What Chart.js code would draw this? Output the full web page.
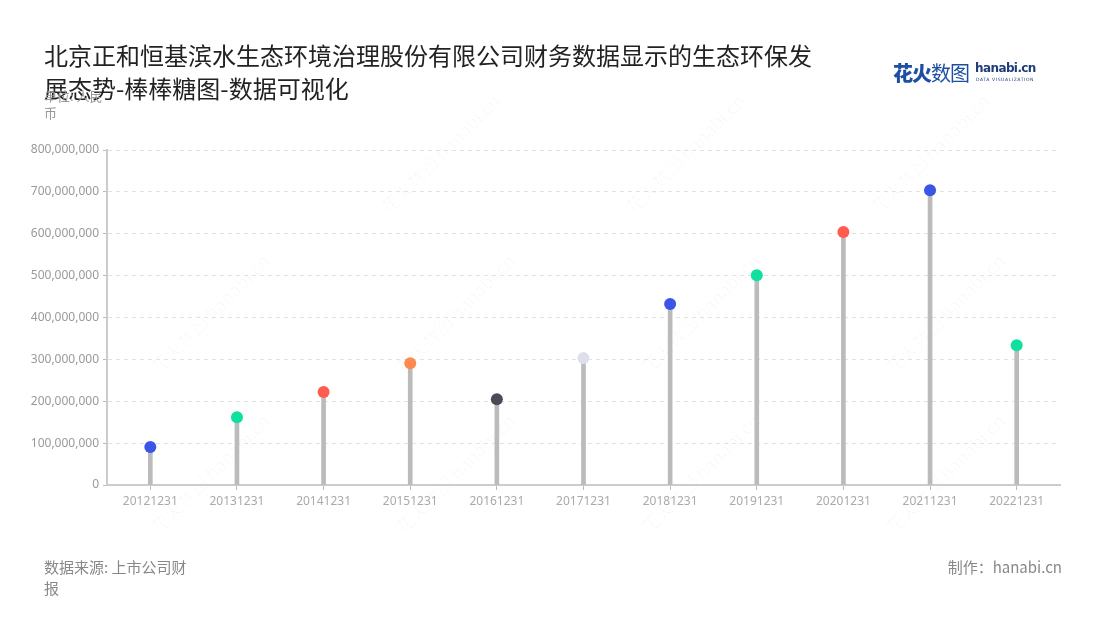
<!DOCTYPE html>
<html>
<head>
<meta charset="utf-8">
<script src="https://cdn.jsdelivr.net/npm/chart.js@4/dist/chart.umd.min.js"></script>
<style>
  body { margin: 0; background: #fff; font-family: "Noto Sans CJK SC", "Noto Sans", sans-serif; }
  #wrap { position: relative; width: 1100px; height: 620px; overflow: hidden; }
  #chart { position: absolute; left: 0; top: 0; }
  .title { position: absolute; left: 44px; top: 38px; font-size: 24px; line-height: 33px; color: #222; width: 780px; }
  .unit { position: absolute; left: 44px; top: 87px; font-size: 13px; line-height: 17px; color: #999; }
  .source { position: absolute; left: 44px; top: 556px; font-size: 15px; line-height: 21px; color: #888; }
  .maker { position: absolute; right: 38px; top: 556px; font-size: 15px; line-height: 21px; color: #888; }
  .logo { position: absolute; left: 893px; top: 58px; height: 30px; }
  .logo .cn { position: absolute; left: 0; top: 0; font-size: 20px; color: #1e4fa3; white-space: nowrap; letter-spacing: -1px; }
  .logo .cn b { font-weight: 900; }
  .logo .en { position: absolute; left: 82px; top: 3px; font-family: "DejaVu Sans", sans-serif; font-weight: bold; font-size: 12px; color: #1e3d7a; letter-spacing: -0.6px; }
  .logo .sub { position: absolute; left: 83px; top: 19px; font-family: "DejaVu Sans", sans-serif; font-size: 4.5px; color: #1e3d7a; letter-spacing: 0.6px; white-space: nowrap; }
  .wm { position: absolute; font-size: 18px; color: rgba(0,0,0,0.03); transform: rotate(-45deg); white-space: nowrap; pointer-events: none; }
</style>
</head>
<body>
<div id="wrap">
  <canvas id="chart" width="1100" height="620"></canvas>
  <div class="title">北京正和恒基滨水生态环境治理股份有限公司财务数据显示的生态环保发展态势-棒棒糖图-数据可视化</div>
  <div class="unit">单位: 人民<br>币</div>
  <div class="source">数据来源: 上市公司财<br>报</div>
  <div class="maker">制作：hanabi.cn</div>
  <div class="logo">
    <div class="cn"><b>花火</b>数图</div>
    <div class="en">hanabi.cn</div>
    <div class="sub">DATA VISUALIZATION</div>
  </div>
</div>
<script>
const categories = ['20121231', '20131231', '20141231', '20151231', '20161231', '20171231',
  '20181231', '20191231', '20201231', '20211231', '20221231'];
const values = [91000000, 162000000, 222000000, 291000000, 205000000, 303000000,
  432000000, 501000000, 604000000, 704000000, 334000000];
const dotColors = ['#3b55e6', '#0fe09f', '#ff5b4f', '#ff8a4f', '#4b4b56', '#dde0ea',
  '#3b55e6', '#0fe09f', '#ff5b4f', '#3b55e6', '#0fe09f'];

// faint watermarks
const wmSpots = [[360, 140], [605, 140], [850, 140], [130, 300], [375, 300], [620, 300], [865, 300],
  [130, 460], [375, 460], [620, 460], [865, 460]];
const wrap = document.getElementById('wrap');
wmSpots.forEach(p => {
  const d = document.createElement('div');
  d.className = 'wm';
  d.style.left = p[0] + 'px';
  d.style.top = p[1] + 'px';
  d.textContent = '花火数图 hanabi.cn';
  wrap.insertBefore(d, wrap.firstChild);
});

const ctx = document.getElementById('chart');

new Chart(ctx, {
  type: 'bar',
  data: {
    labels: categories,
    datasets: [
      {
        type: 'line',
        data: values,
        showLine: false,
        pointRadius: 6,
        pointHoverRadius: 6,
        pointBorderWidth: 0,
        pointBackgroundColor: dotColors,
        order: 0
      },
      {
        type: 'bar',
        data: values,
        backgroundColor: '#bbbbbb',
        barThickness: 4,
        order: 1
      }
    ]
  },
  options: {
    responsive: false,
    animation: false,
    layout: { padding: { left: 0, right: 40, top: 150, bottom: 0 } },
    plugins: { legend: { display: false }, tooltip: { enabled: false } },
    scales: {
      x: {
        grid: { offset: false, drawOnChartArea: false, drawTicks: true, tickLength: 5, color: '#bbb' },
        border: { display: true, color: '#ccc', width: 2 },
        ticks: { color: '#aaa', font: { size: 12, family: 'Noto Sans' }, padding: 4, maxRotation: 0 },
        afterFit: s => { s.height = 135; }
      },
      y: {
        min: 0,
        max: 800000000,
        ticks: {
          stepSize: 100000000,
          color: '#999',
          font: { size: 12, family: 'Noto Sans' },
          padding: 4,
          callback: v => v.toLocaleString('en-US')
        },
        grid: { color: '#e2e2e2', tickColor: '#bbb', tickLength: 4, tickBorderDash: [] },
        border: { display: true, color: '#ccc', width: 2, dash: [4, 4] },
        afterFit: s => { s.width = 107; }
      }
    }
  }
});
</script>
</body>
</html>
